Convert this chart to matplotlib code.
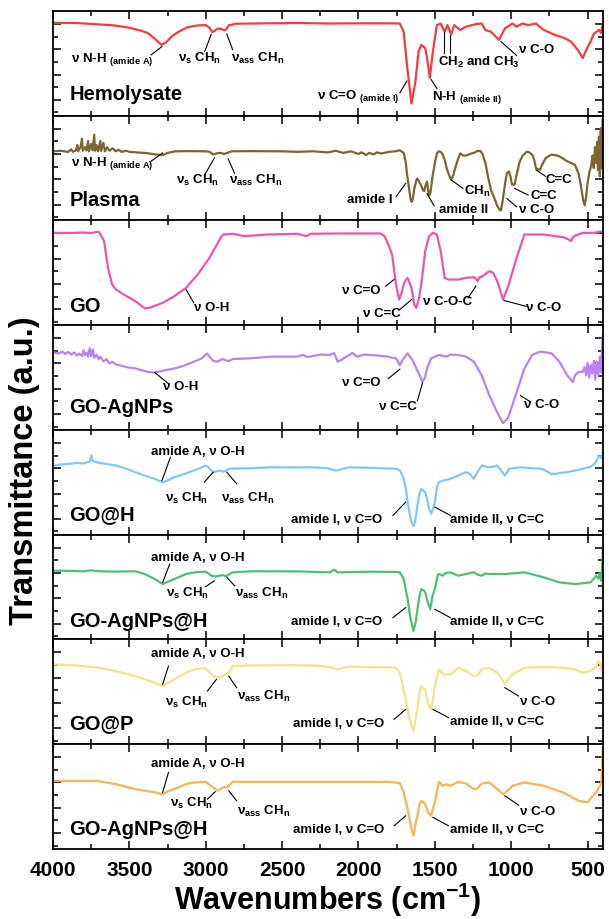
import matplotlib
matplotlib.use("Agg")
import matplotlib.pyplot as plt
from matplotlib.ticker import MultipleLocator

plt.rcParams["font.family"] = ["Liberation Sans", "DejaVu Sans"]
plt.rcParams["font.weight"] = "bold"
plt.rcParams["mathtext.fontset"] = "custom"
plt.rcParams["mathtext.rm"] = "Liberation Sans:bold"
plt.rcParams["mathtext.it"] = "Liberation Sans:bold"
plt.rcParams["mathtext.bf"] = "Liberation Sans:bold"

# ---------------------------------------------------------------------------
# FTIR spectra (wavenumber in cm-1, transmittance in panel-relative a.u.)
# ---------------------------------------------------------------------------
hemo_wn = [4000, 3850, 3700, 3600, 3500, 3420, 3380, 3330, 3290, 3260, 3220, 3180, 3120, 3050,
           3000, 2975, 2960, 2945, 2925, 2900, 2880, 2868, 2850, 2800, 2600, 2400, 2200, 2000,
           1800, 1729, 1704, 1683, 1653, 1627, 1607, 1589, 1563, 1551, 1533, 1513, 1487, 1462,
           1436, 1418, 1393, 1373, 1334, 1296, 1230, 1194, 1169, 1131, 1080, 1042, 991, 965,
           927, 889, 838, 787, 711, 650, 609, 560, 532, 505, 481, 460, 443, 425, 412, 400]
hemo_tr = [.887, .885, .872, .862, .84, .81, .79, .73, .676, .70, .76, .80, .845, .862,
           .865, .84, .80, .805, .83, .83, .815, .82, .862, .878, .882, .885, .88, .882,
           .882, .88, .80, .487, .116, .33, .613, .676, .645, .55, .362, .613, .865, .88,
           .80, .865, .777, .865, .818, .85, .875, .88, .818, .80, .723, .833, .88, .849,
           .88, .865, .88, .818, .77, .74, .708, .62, .55, .64, .708, .78, .80, .82, .79, .88]

plasma_wn = [4000, 3950, 3900, 3880, 3870, 3850, 3840, 3835, 3820, 3810, 3805, 3790, 3780, 3770,
             3765, 3750, 3740, 3730, 3725, 3715, 3705, 3690, 3685, 3670, 3660, 3645, 3630, 3610,
             3590, 3570, 3550, 3520, 3500, 3450, 3400, 3350, 3300, 3280, 3250, 3200, 3100, 3000,
             2975, 2950, 2930, 2900, 2880, 2860, 2830, 2700, 2500, 2400, 2300, 2200, 2150, 2100,
             2050, 2000, 1980, 1950, 1930, 1900, 1880, 1850, 1800, 1760, 1730, 1715, 1704, 1690,
             1683, 1670, 1660, 1653, 1645, 1635, 1620, 1614, 1600, 1589, 1578, 1570, 1560, 1551,
             1545, 1538, 1530, 1515, 1500, 1487, 1474, 1462, 1449, 1436, 1423, 1411, 1398, 1393,
             1380, 1373, 1350, 1334, 1315, 1296, 1270, 1245, 1220, 1200, 1190, 1169, 1150, 1130,
             1118, 1092, 1075, 1067, 1055, 1042, 1029, 1016, 1005, 996, 985, 978, 965, 945,
             927, 900, 880, 860, 850, 838, 825, 812, 795, 774, 736, 700, 685, 634,
             583, 560, 545, 530, 520, 510, 502, 490, 476, 468, 460, 452, 445, 438,
             432, 426, 420, 414, 408, 403, 400]
plasma_tr = [.66, .665, .655, .68, .655, .67, .72, .66, .70, .78, .665, .70, .67, .76,
             .66, .73, .67, .82, .665, .72, .66, .76, .665, .74, .66, .70, .665, .69,
             .66, .675, .655, .665, .655, .65, .645, .635, .625, .625, .645, .66, .662, .66,
             .655, .63, .64, .645, .635, .645, .66, .662, .66, .655, .66, .65, .665, .645,
             .66, .635, .65, .625, .645, .63, .65, .64, .655, .66, .67, .655, .645, .55,
             .45, .32, .21, .177, .20, .30, .39, .40, .36, .33, .29, .28, .34, .37,
             .30, .24, .26, .42, .55, .64, .66, .655, .63, .58, .50, .45, .40, .387,
             .43, .47, .58, .64, .62, .62, .635, .645, .665, .66, .64, .55, .40, .28,
             .24, .14, .10, .097, .20, .34, .45, .468, .42, .345, .34, .345, .435, .56,
             .615, .655, .65, .62, .58, .50, .49, .484, .54, .597, .629, .62, .613, .565,
             .532, .45, .34, .20, .145, .22, .34, .45, .53, .62, .50, .70, .55, .75,
             .48, .80, .42, .88, .50, .93, .98]

go_wn = [4000, 3900, 3800, 3750, 3715, 3700, 3690, 3665, 3640, 3613, 3588, 3537, 3460, 3397,
         3370, 3282, 3206, 3129, 3053, 2976, 2900, 2887, 2824, 2747, 2600, 2400, 2340, 2315,
         2100, 1950, 1856, 1830, 1805, 1780, 1754, 1734, 1720, 1704, 1691, 1678, 1665, 1653,
         1635, 1622, 1605, 1589, 1563, 1538, 1513, 1487, 1462, 1436, 1411, 1347, 1296, 1245,
         1230, 1220, 1210, 1194, 1143, 1118, 1092, 1065, 1054, 1016, 965, 914, 787, 711,
         660, 625, 609, 590, 532, 456, 400]
go_tr = [.882, .88, .885, .88, .89, .89, .87, .80, .55, .389, .341, .293, .229, .159,
         .166, .213, .277, .357, .484, .643, .84, .866, .873, .85, .866, .873, .85, .873,
         .876, .876, .876, .85, .771, .675, .389, .245, .30, .389, .43, .452, .40, .357,
         .20, .166, .25, .389, .707, .85, .882, .866, .707, .452, .436, .436, .452, .459,
         .44, .42, .455, .462, .516, .50, .42, .30, .245, .389, .643, .866, .866, .85,
         .841, .82, .803, .85, .882, .882, .898]

goag_wn = [4000, 3960, 3940, 3920, 3900, 3880, 3860, 3842, 3830, 3810, 3800, 3790, 3780, 3770,
           3760, 3750, 3740, 3730, 3715, 3700, 3690, 3670, 3650, 3630, 3610, 3588, 3560, 3530,
           3500, 3460, 3420, 3380, 3346, 3300, 3250, 3206, 3150, 3078, 3030, 3002, 2990, 2976,
           2951, 2926, 2900, 2887, 2870, 2849, 2824, 2700, 2569, 2400, 2365, 2340, 2315, 2250,
           2187, 2160, 2136, 2110, 2080, 2060, 2040, 2010, 1960, 1933, 1870, 1805, 1780, 1754,
           1729, 1715, 1704, 1678, 1665, 1653, 1625, 1600, 1581, 1565, 1551, 1525, 1474, 1423,
           1400, 1347, 1296, 1245, 1194, 1143, 1092, 1054, 1030, 1016, 965, 914, 863, 812,
           736, 685, 634, 596, 583, 558, 532, 520, 510, 500, 490, 480, 470, 460,
           450, 440, 430, 420, 412, 405, 400]
goag_tr = [.742, .73, .75, .725, .745, .72, .74, .71, .73, .705, .76, .715, .74, .70,
           .78, .705, .77, .69, .72, .675, .70, .655, .675, .635, .65, .625, .615, .605,
           .595, .587, .57, .555, .548, .56, .575, .587, .61, .652, .68, .716, .73, .70,
           .66, .652, .67, .677, .665, .658, .677, .685, .70, .70, .716, .70, .70, .72,
           .716, .735, .652, .67, .70, .716, .735, .70, .72, .716, .71, .70, .69, .684,
           .619, .66, .684, .732, .70, .684, .60, .523, .458, .50, .587, .684, .716, .70,
           .72, .716, .70, .652, .523, .329, .168, .065, .10, .135, .361, .587, .716, .748,
           .732, .652, .523, .458, .52, .555, .555, .60, .52, .64, .50, .62, .54, .66,
           .48, .65, .52, .70, .55, .80, .91]

goh_wn = [4000, 3950, 3900, 3842, 3800, 3760, 3748, 3742, 3715, 3650, 3588, 3520, 3460, 3400,
          3333, 3282, 3240, 3206, 3140, 3078, 3030, 3002, 2985, 2976, 2951, 2930, 2910, 2887,
          2870, 2849, 2800, 2696, 2569, 2400, 2315, 2200, 2187, 2150, 2136, 2100, 2060, 1950,
          1850, 1754, 1729, 1710, 1704, 1690, 1678, 1665, 1653, 1640, 1630, 1614, 1600, 1589,
          1575, 1563, 1551, 1538, 1525, 1510, 1500, 1487, 1474, 1449, 1398, 1347, 1296, 1270,
          1245, 1220, 1194, 1169, 1143, 1118, 1092, 1060, 1042, 1025, 1016, 940, 863, 800,
          736, 711, 685, 634, 583, 532, 480, 456, 443, 431, 420, 410, 400]
goh_tr = [.66, .67, .676, .686, .68, .70, .76, .71, .692, .675, .66, .63, .597, .565,
          .533, .50, .525, .549, .58, .613, .64, .66, .65, .629, .597, .605, .613, .603,
          .61, .629, .632, .635, .644, .642, .644, .635, .629, .613, .615, .63, .644, .64,
          .635, .63, .613, .56, .533, .44, .311, .20, .12, .083, .12, .279, .40, .438,
          .42, .406, .34, .25, .20, .26, .311, .45, .502, .517, .533, .565, .597, .58,
          .533, .60, .66, .65, .644, .65, .66, .60, .565, .60, .629, .644, .635, .63,
          .581, .58, .59, .597, .613, .629, .65, .676, .70, .74, .75, .73, .787]

goagh_wn = [4000, 3900, 3800, 3750, 3700, 3588, 3460, 3400, 3333, 3282, 3250, 3206, 3129, 3053,
            3002, 2976, 2963, 2940, 2926, 2900, 2887, 2870, 2849, 2824, 2696, 2569, 2400, 2187,
            2160, 2136, 2000, 1900, 1805, 1754, 1729, 1704, 1678, 1660, 1640, 1625, 1614, 1600,
            1589, 1570, 1563, 1545, 1530, 1515, 1500, 1480, 1474, 1449, 1430, 1398, 1347, 1296,
            1245, 1220, 1194, 1169, 1143, 1042, 914, 787, 685, 583, 481, 443, 430, 420,
            412, 405, 400]
goagh_tr = [.657, .655, .651, .66, .651, .648, .651, .625, .577, .529, .55, .577, .625, .645,
            .647, .625, .609, .603, .603, .612, .615, .603, .62, .641, .651, .651, .65, .641,
            .667, .641, .645, .647, .645, .645, .641, .577, .385, .20, .08, .17, .288, .42,
            .481, .465, .449, .35, .288, .42, .481, .62, .625, .609, .635, .641, .609, .625,
            .641, .62, .609, .63, .625, .625, .641, .593, .545, .529, .545, .609, .58, .63,
            .56, .70, .865]

gop_wn = [4000, 3842, 3700, 3588, 3460, 3333, 3282, 3250, 3206, 3129, 3078, 3002, 2976, 2951,
          2926, 2900, 2887, 2870, 2849, 2824, 2700, 2500, 2315, 2200, 2170, 2136, 2100, 2060,
          1900, 1800, 1754, 1729, 1710, 1691, 1665, 1640, 1625, 1614, 1600, 1589, 1575, 1563,
          1551, 1538, 1525, 1510, 1500, 1474, 1449, 1398, 1347, 1296, 1245, 1220, 1194, 1143,
          1092, 1060, 1042, 1020, 991, 914, 787, 660, 583, 532, 480, 456, 443, 431,
          420, 410, 400]
gop_tr = [.762, .752, .73, .698, .651, .587, .556, .58, .619, .683, .714, .73, .683, .651,
          .635, .645, .651, .67, .683, .746, .752, .755, .752, .74, .73, .714, .73, .74,
          .735, .735, .73, .683, .55, .429, .238, .127, .25, .333, .50, .556, .53, .524,
          .429, .36, .333, .45, .556, .714, .667, .667, .73, .698, .651, .66, .714, .73,
          .683, .62, .571, .62, .667, .73, .74, .73, .714, .683, .70, .73, .74, .794,
          .78, .70, .80]

goagp_wn = [4000, 3842, 3715, 3588, 3460, 3333, 3282, 3250, 3206, 3129, 3078, 3002, 2951, 2926,
            2900, 2887, 2860, 2849, 2824, 2500, 2060, 1800, 1729, 1704, 1678, 1653, 1640, 1625,
            1614, 1600, 1589, 1570, 1563, 1545, 1525, 1510, 1500, 1474, 1449, 1423, 1398, 1347,
            1296, 1245, 1220, 1194, 1143, 1092, 1054, 1030, 991, 914, 787, 660, 560, 500,
            470, 443, 430, 418, 410, 400]
goagp_tr = [.651, .651, .651, .619, .571, .54, .524, .55, .571, .619, .635, .641, .587, .556,
            .575, .587, .59, .603, .641, .641, .641, .64, .629, .54, .381, .19, .127, .25,
            .317, .43, .46, .44, .429, .35, .317, .40, .444, .641, .603, .619, .603, .641,
            .625, .571, .58, .625, .635, .571, .524, .55, .603, .635, .603, .54, .46, .444,
            .50, .54, .58, .60, .65, .952]

samples = ["Hemolysate", "Plasma", "GO", "GO-AgNPs", "GO@H", "GO-AgNPs@H", "GO@P", "GO-AgNPs@H"]
colors = ["#f23d3d", "#7d6432", "#ec55ad", "#b784f2", "#80c8f5", "#4fbf74", "#f2e38a", "#f8b455"]
spectra = [(hemo_wn, hemo_tr), (plasma_wn, plasma_tr), (go_wn, go_tr), (goag_wn, goag_tr),
           (goh_wn, goh_tr), (goagh_wn, goagh_tr), (gop_wn, gop_tr), (goagp_wn, goagp_tr)]

# band assignments: label, text anchor (x, y), leader lines [(x1, x2, y1, y2), ...]
NU_S = "ν$_\\mathrm{s}$ CH$_\\mathrm{n}$"
NU_ASS = "ν$_\\mathrm{ass}$ CH$_\\mathrm{n}$"
AMIDE_A = "amide A, ν O-H"
AMIDE_I = "amide I, ν C=O"
AMIDE_II = "amide II, ν C=C"
bands = [
    [("ν N-H$\\ _\\mathrm{(amide\\ A)}$", 3880, .52, [(3358, 3287, .58, .66)]),
     (NU_S, 3180, .525, [(3007, 2964, .613, .777)]),
     (NU_ASS, 2836, .525, [(2862, 2824, .78, .63)]),
     ("ν C=O$\\ _\\mathrm{(amide\\ I)}$", 2269, .173, [(1729, 1683, .22, .33)]),
     ("N-H$\\ _\\mathrm{(amide\\ II)}$", 1520, .157, [(1487, 1525, .26, .346)]),
     ("CH$_\\mathrm{2}$ and CH$_\\mathrm{3}$", 1482, .487,
      [(1441, 1441, .597, .80), (1398, 1398, .597, .77)]),
     ("ν C-O", 952, .607, [(965, 1067, .575, .707)])],
    [("ν N-H$\\ _\\mathrm{(amide\\ A)}$", 3880, .53, [(3358, 3282, .565, .645)]),
     (NU_S, 3193, .355, [(3007, 2943, .435, .597)]),
     (NU_ASS, 2849, .355, [(2854, 2811, .59, .45)]),
     ("amide I", 2073, .177, [(1754, 1691, .226, .355)]),
     ("amide II", 1474, .08, [(1505, 1551, .139, .258)]),
     ("CH$_\\mathrm{n}$", 1309, .258, [(1393, 1316, .387, .306)]),
     ("ν C-O", 952, .08, [(1029, 965, .21, .13)]),
     ("C=C", 876, .21, [(978, 889, .306, .242)]),
     ("C=C", 774, .371, [(838, 774, .484, .42)])],
    [("ν O-H", 3078, .15, [(3129, 3078, .34, .213)]),
     ("ν C=O", 2111, .31, [(1823, 1767, .373, .436)]),
     ("ν C=C", 1971, .086, [(1729, 1653, .15, .245)]),
     ("ν C-O-C", 1576, .204, [(1283, 1232, .26, .373)]),
     ("ν C-O", 902, .15, [(1047, 902, .236, .18)])],
    [("ν O-H", 3282, .387, [(3333, 3244, .548, .442)]),
     ("ν C=O", 2111, .426, [(1805, 1729, .49, .58)]),
     ("ν C=C", 1869, .20, [(1614, 1581, .28, .45)]),
     ("ν C-O", 914, .216, [(940, 876, .329, .27)])],
    [(AMIDE_A, 3358, .771, [(3231, 3287, .74, .517)]),
     (NU_S, 3269, .327, [(3010, 2951, .50, .597)]),
     (NU_ASS, 2900, .327, [(2862, 2798, .597, .486)]),
     (AMIDE_I, 2442, .12, [(1775, 1691, .184, .311)]),
     (AMIDE_II, 1398, .12, [(1500, 1398, .263, .184)])],
    [(AMIDE_A, 3358, .763, [(3236, 3282, .72, .545)]),
     (NU_S, 3257, .417, [(3002, 2943, .503, .56)]),
     (NU_ASS, 2811, .417, [(2862, 2811, .593, .513)]),
     (AMIDE_I, 2442, .144, [(1775, 1691, .208, .304)]),
     (AMIDE_II, 1398, .144, [(1500, 1398, .288, .208)])],
    [(AMIDE_A, 3358, .84, [(3244, 3282, .746, .571)]),
     (NU_S, 3269, .38, [(2989, 2930, .508, .619)]),
     (NU_ASS, 2798, .43, [(2849, 2798, .65, .54)]),
     ("ν C-O", 940, .38, [(1042, 952, .54, .46)]),
     (AMIDE_I, 2429, .175, [(1767, 1691, .238, .333)]),
     (AMIDE_II, 1403, .19, [(1513, 1411, .333, .254)])],
    [(AMIDE_A, 3358, .794, [(3244, 3282, .73, .54)]),
     (NU_S, 3231, .413, [(2989, 2938, .476, .546)]),
     (NU_ASS, 2798, .333, [(2849, 2798, .556, .46)]),
     ("ν C-O", 940, .333, [(1042, 952, .508, .419)]),
     (AMIDE_I, 2429, .159, [(1767, 1691, .222, .317)]),
     (AMIDE_II, 1403, .159, [(1513, 1411, .302, .222)])],
]
name_y = [.157, .145, .134, .168, .152, .128, .159, .143]

fig, axes = plt.subplots(8, 1, figsize=(6.09, 9.2), dpi=100, sharex=True)
fig.subplots_adjust(left=0.087, right=0.990, top=0.987, bottom=0.0761, hspace=0)

for i, ax in enumerate(axes):
    wn, tr = spectra[i]
    ax.plot(wn, tr, color=colors[i], lw=1.6, solid_joinstyle="round")
    ax.set_xlim(4000, 400)
    ax.set_ylim(0, 1)

    ax.text(3893, name_y[i], samples[i], fontsize=14.5, fontweight="bold", ha="left", va="baseline")
    for label, tx, ty, leaders in bands[i]:
        ax.text(tx, ty, label, fontsize=9.5, fontweight="bold", ha="left", va="baseline")
        for x1, x2, y1, y2 in leaders:
            ax.plot([x1, x2], [y1, y2], color="black", lw=0.8)

    for side in ax.spines.values():
        side.set_linewidth(1.3)
    ax.xaxis.set_major_locator(MultipleLocator(500))
    ax.xaxis.set_minor_locator(MultipleLocator(250))
    ax.set_yticks([0.152, 0.393, 0.635, 0.876])
    ax.set_yticks([0.032, 0.273, 0.514, 0.755], minor=True)
    ax.tick_params(which="both", direction="in", top=True, right=True, width=1.1,
                   labelleft=False)
    ax.tick_params(which="major", length=6)
    ax.tick_params(which="minor", length=3.5)
    ax.tick_params(axis="x", labelsize=15, pad=8)

for lab in axes[-1].get_xticklabels():
    lab.set_fontweight("bold")

fig.text(0.040, 0.488, "Transmittance (a.u.)", rotation=90, fontsize=23.5, fontweight="bold",
         ha="center", va="center")
fig.text(0.5385, 0.011, "Wavenumbers (cm$^\\mathrm{-1}$)", fontsize=22, fontweight="bold",
         ha="center", va="baseline")

fig.savefig("out.png", dpi=100)
